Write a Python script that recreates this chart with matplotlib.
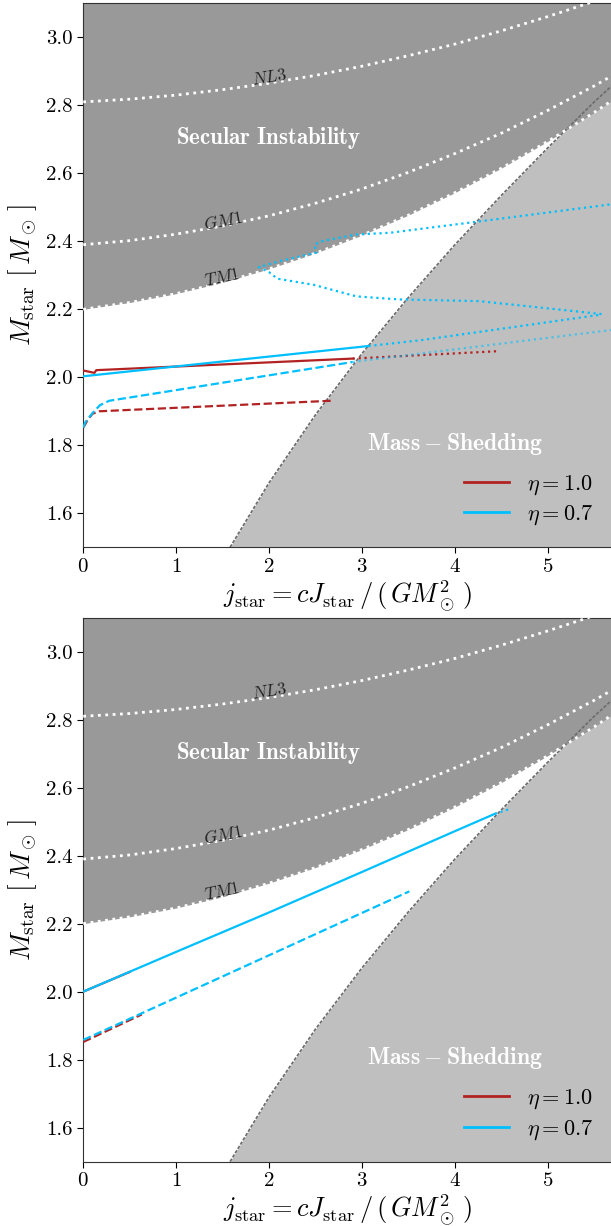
import matplotlib
matplotlib.use('Agg')
import matplotlib.pyplot as plt
from matplotlib.lines import Line2D

plt.rcParams['font.family'] = 'serif'
plt.rcParams['font.serif'] = ['cmr10']
plt.rcParams['mathtext.fontset'] = 'cm'
plt.rcParams['axes.formatter.use_mathtext'] = True

# secular instability limits
j_grid = [0, 0.5, 1, 1.5, 2, 2.5, 3, 3.5, 4, 4.5, 5, 5.5, 5.8]
m_tm1 = [2.200, 2.220, 2.246, 2.279, 2.319, 2.365, 2.418, 2.477, 2.543, 2.615, 2.694, 2.779, 2.834]
m_gm1 = [2.390, 2.402, 2.421, 2.445, 2.475, 2.512, 2.554, 2.603, 2.658, 2.718, 2.785, 2.857, 2.904]
m_nl3 = [2.810, 2.818, 2.830, 2.846, 2.865, 2.888, 2.915, 2.946, 2.980, 3.019, 3.061, 3.106, 3.136]

# mass-shedding limit
j_shed = [1.58, 2.0, 2.5, 3.0, 3.5, 4.0, 4.5, 5.0, 5.5, 5.8]
m_shed = [1.50, 1.69, 1.89, 2.07, 2.235, 2.39, 2.535, 2.675, 2.81, 2.885]

# top panel sequences
top_red_solid_j = [0, 0.12, 0.14, 2.90]
top_red_solid_m = [2.020, 2.013, 2.021, 2.055]
top_red_dot_j = [2.90, 4.48]
top_red_dot_m = [2.055, 2.077]
top_red_dash_j = [0, 0.05, 0.10, 0.17, 2.67]
top_red_dash_m = [1.852, 1.876, 1.893, 1.900, 1.931]

top_cyan_solid_j = [0, 3.07]
top_cyan_solid_m = [2.003, 2.092]
top_cyan_dot_j = [3.07, 3.63, 5.54, 5.58, 4.26, 3.40, 2.94, 2.48, 2.09, 2.00, 1.89,
                  2.12, 2.51, 2.49, 2.58, 2.94, 3.30, 4.22, 5.80]
top_cyan_dot_m = [2.092, 2.109, 2.183, 2.186, 2.224, 2.229, 2.238, 2.272, 2.290, 2.309, 2.324,
                  2.342, 2.367, 2.391, 2.401, 2.420, 2.425, 2.457, 2.513]
top_cyan_dash_j = [0, 0.02, 0.10, 0.18, 0.28, 2.90]
top_cyan_dash_m = [1.852, 1.867, 1.895, 1.918, 1.931, 2.045]
top_cyan_dash_dot_j = [2.90, 5.80]
top_cyan_dash_dot_m = [2.045, 2.143]

# bottom panel sequences
bot_red_solid_j = [0, 0.5]
bot_red_solid_m = [2.000, 2.058]
bot_red_dash_j = [0, 0.63]
bot_red_dash_m = [1.852, 1.933]
bot_cyan_solid_j = [0, 1, 2, 3, 4, 4.43]
bot_cyan_solid_m = [2.000, 2.117, 2.233, 2.352, 2.472, 2.523]
bot_cyan_dot_j = [4.43, 4.60]
bot_cyan_dot_m = [2.523, 2.538]
bot_cyan_dash_j = [0, 3.51]
bot_cyan_dash_m = [1.858, 2.295]

red = '#b22222'
cyan = '#00bfff'


def background(ax):
    ax.fill_between(j_shed, 1.4, m_shed, color='0.75', lw=0, zorder=1)
    ax.fill_between(j_grid, m_tm1, 3.3, color='0.6', lw=0, zorder=2)
    ax.plot(j_shed, m_shed, color='0.42', lw=1.2, ls=(0, (2, 1)), zorder=3)
    for m in (m_tm1, m_gm1, m_nl3):
        ax.plot(j_grid, m, color='white', lw=2, ls=':', zorder=3)
    ax.text(2.0, 2.883, r'$NL3$', rotation=9, fontsize=12.5, color='#222222',
            ha='center', va='center', zorder=4)
    ax.text(1.5, 2.460, r'$GM1$', rotation=11, fontsize=12.5, color='#222222',
            ha='center', va='center', zorder=4)
    ax.text(1.5, 2.294, r'$TM1$', rotation=12, fontsize=12.5, color='#222222',
            ha='center', va='center', zorder=4)
    ax.text(2.0, 2.703, r'$\mathbf{Secular\ Instability}$', fontsize=16.5,
            color='white', ha='center', va='center', zorder=4)
    ax.text(4.0, 1.805, r'$\mathbf{Mass-Shedding}$', fontsize=17,
            color='white', ha='center', va='center', zorder=4)


def style(ax):
    ax.set_xlim(0, 5.7)
    ax.set_ylim(1.5, 3.1)
    ax.set_xticks([0, 1, 2, 3, 4, 5])
    ax.set_yticks([1.6, 1.8, 2.0, 2.2, 2.4, 2.6, 2.8, 3.0])
    ax.set_yticklabels(['1.6', '1.8', '2.0', '2.2', '2.4', '2.6', '2.8', '3.0'])
    ax.tick_params(labelsize=15, direction='out', length=4)
    ax.spines['right'].set_visible(False)
    for s in ('left', 'bottom', 'top'):
        ax.spines[s].set_color('#333333')
    ax.set_xlabel(r'$j_{\rm star} = cJ_{\rm star}\,/\,(\,GM_\odot^2\,)$', fontsize=19, labelpad=2)
    ax.set_ylabel(r'$M_{\rm star}\ [\,M_\odot\,]$', fontsize=20, labelpad=5)
    handles = [Line2D([], [], color=red, lw=2), Line2D([], [], color=cyan, lw=2)]
    ax.legend(handles, [r'$\eta = 1.0$', r'$\eta = 0.7$'], loc='lower right',
              frameon=False, fontsize=16, handlelength=2.0, labelspacing=0.3)


fig = plt.figure(figsize=(6.11, 12.26), dpi=100)
ax1 = fig.add_axes([0.1363, 0.5536, 0.8667, 0.4437])
ax2 = fig.add_axes([0.1363, 0.0525, 0.8667, 0.4437])

# top panel
background(ax1)
ax1.plot(top_red_solid_j, top_red_solid_m, color=red, lw=1.6, zorder=5)
ax1.plot(top_red_dot_j, top_red_dot_m, color=red, lw=1.6, ls=':', zorder=5)
ax1.plot(top_red_dash_j, top_red_dash_m, color=red, lw=1.6, ls='--', zorder=5)
ax1.plot(top_cyan_solid_j, top_cyan_solid_m, color=cyan, lw=1.6, zorder=6)
ax1.plot(top_cyan_dot_j, top_cyan_dot_m, color=cyan, lw=1.6, ls=':', zorder=6)
ax1.plot(top_cyan_dash_j, top_cyan_dash_m, color=cyan, lw=1.6, ls='--', zorder=6)
ax1.plot(top_cyan_dash_dot_j, top_cyan_dash_dot_m, color=cyan, lw=1.6, ls=':', alpha=0.6, zorder=6)
style(ax1)

# bottom panel
background(ax2)
ax2.plot(bot_red_solid_j, bot_red_solid_m, color=red, lw=1.6, zorder=5)
ax2.plot(bot_red_dash_j, bot_red_dash_m, color=red, lw=1.6, ls='--', zorder=5)
ax2.plot(bot_cyan_solid_j, bot_cyan_solid_m, color=cyan, lw=1.6, zorder=6)
ax2.plot(bot_cyan_dot_j, bot_cyan_dot_m, color=cyan, lw=1.6, ls=':', zorder=6)
ax2.plot(bot_cyan_dash_j, bot_cyan_dash_m, color=cyan, lw=1.6, ls='--', zorder=6)
style(ax2)

fig.savefig('out.png', dpi=100)
